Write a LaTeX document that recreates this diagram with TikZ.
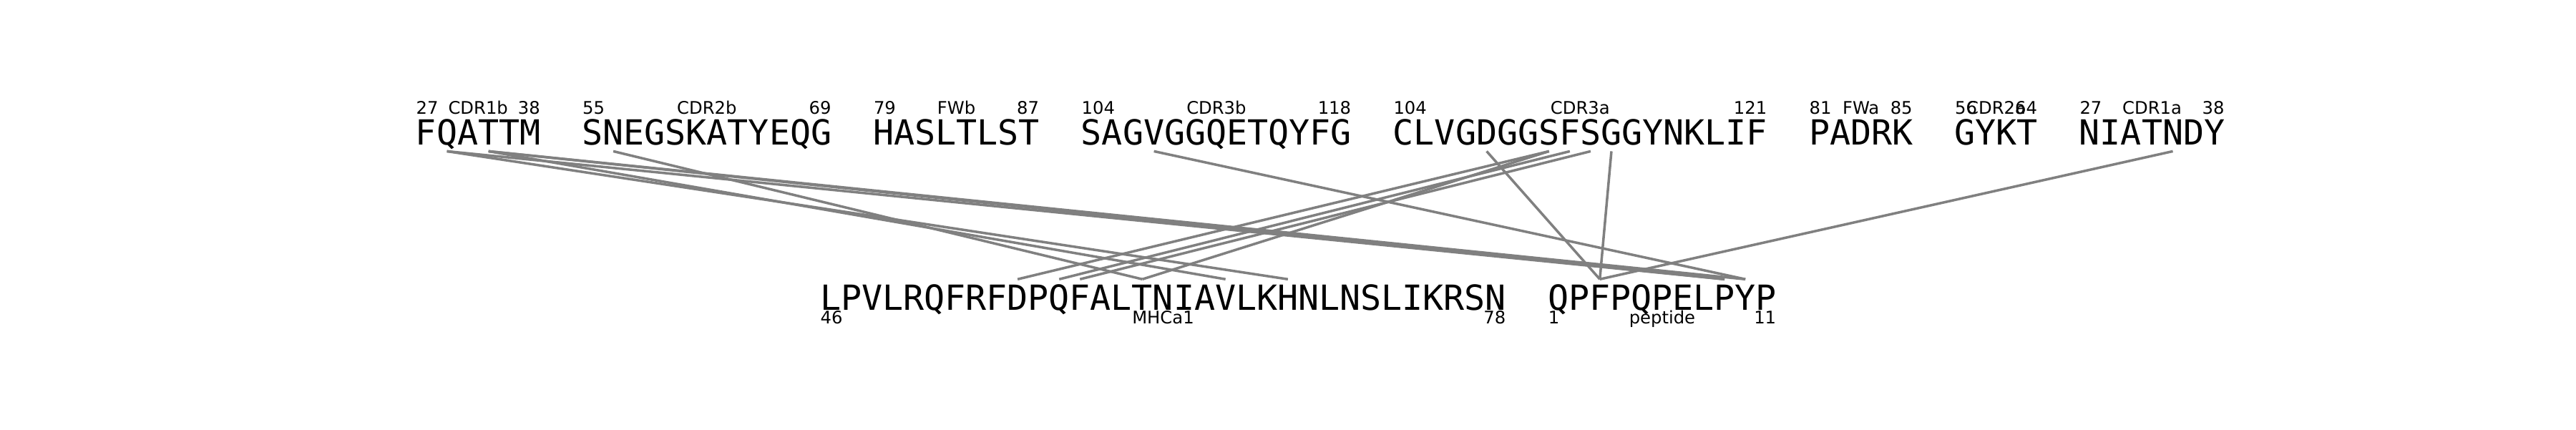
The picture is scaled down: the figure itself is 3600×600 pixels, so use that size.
\documentclass[tikz,border=0pt]{standalone}
\usepackage{fontspec}
\setmainfont{DejaVu Sans}
\newfontfamily\seqfont{DejaVu Sans Mono}

\begin{document}
\begin{tikzpicture}[x=0.01cm, y=-0.01cm,
    res/.style={anchor=base, inner sep=0pt, text height=0.42cm, text depth=0.087cm,
        font=\seqfont\fontsize{13.74}{14}\selectfont},
    resb/.style={res, text depth=0pt},
    lbl/.style={inner sep=0pt, font=\fontsize{6.9}{7}\selectfont},
    contact/.style={gray, line width=1pt}]
    \useasboundingbox (0,0) rectangle (3600,600);
    \foreach \c [count=\i from 0] in {F,Q,A,T,T,M}
        \node[res] (t\i) at ({581+29.06*(\i+0.5)},202) {\c};
    \foreach \c [count=\i from 8] in {S,N,E,G,S,K,A,T,Y,E,Q,G}
        \node[res] (t\i) at ({581+29.06*(\i+0.5)},202) {\c};
    \foreach \c [count=\i from 22] in {H,A,S,L,T,L,S,T}
        \node[res] (t\i) at ({581+29.06*(\i+0.5)},202) {\c};
    \foreach \c [count=\i from 32] in {S,A,G,V,G,G,Q,E,T,Q,Y,F,G}
        \node[res] (t\i) at ({581+29.06*(\i+0.5)},202) {\c};
    \foreach \c [count=\i from 47] in {C,L,V,G,D,G,G,S,F,S,G,G,Y,N,K,L,I,F}
        \node[res] (t\i) at ({581+29.06*(\i+0.5)},202) {\c};
    \foreach \c [count=\i from 67] in {P,A,D,R,K}
        \node[res] (t\i) at ({581+29.06*(\i+0.5)},202) {\c};
    \foreach \c [count=\i from 74] in {G,Y,K,T}
        \node[res] (t\i) at ({581+29.06*(\i+0.5)},202) {\c};
    \foreach \c [count=\i from 80] in {N,I,A,T,N,D,Y}
        \node[res] (t\i) at ({581+29.06*(\i+0.5)},202) {\c};
    \foreach \c [count=\i from 0] in {L,P,V,L,R,Q,F,R,F,D,P,Q,F,A,L,T,N,I,A,V,L,K,H,N,L,N,S,L,I,K,R,S,N}
        \node[resb] (b\i) at ({1146+29.06*(\i+0.5)},433) {\c};
    \foreach \c [count=\i from 35] in {Q,P,F,P,Q,P,E,L,P,Y,P}
        \node[resb] (b\i) at ({1146+29.06*(\i+0.5)},433) {\c};
    \foreach \l/\r/\s/\n/\e [count=\k] in {581/755.4/27/CDR1b/38, 813.5/1162.2/55/CDR2b/69,
        1220.3/1452.8/79/FWb/87, 1511.0/1888.8/104/CDR3b/118, 1946.8/2469.9/104/CDR3a/121,
        2528.0/2673.3/81/FWa/85, 2731.4/2847.7/56/CDR2a/64, 2905.8/3109.2/27/CDR1a/38}
    {
        \node[lbl, anchor=base west] (ls\k) at (\l,159) {\s};
        \node[lbl, anchor=base] (ln\k) at ({(\l+\r)/2},159) {\n};
        \node[lbl, anchor=base east] (le\k) at (\r,159) {\e};
    }
    \foreach \l/\r/\s/\n/\e [count=\k] in {1146/2105/46/MHCa1/78, 2163.1/2482.8/1/peptide/11}
    {
        \node[lbl, anchor=base west] (bs\k) at (\l,452) {\s};
        \node[lbl, anchor=base] (bn\k) at ({(\l+\r)/2},452) {\n};
        \node[lbl, anchor=base east] (be\k) at (\r,452) {\e};
    }
    \draw[contact] (t1.south) -- (b22.north);
    \draw[contact] (t1.south) -- (b43.north);
    \draw[contact] (t3.south) -- (b43.north);
    \draw[contact] (t3.south) -- (b44.north);
    \draw[contact] (t3.south) -- (b19.north);
    \draw[contact] (t9.south) -- (b15.north);
    \draw[contact] (t35.south) -- (b44.north);
    \draw[contact] (t51.south) -- (b37.north);
    \draw[contact] (t54.south) -- (b9.north);
    \draw[contact] (t54.south) -- (b15.north);
    \draw[contact] (t55.south) -- (b11.north);
    \draw[contact] (t56.south) -- (b12.north);
    \draw[contact] (t57.south) -- (b37.north);
    \draw[contact] (t84.south) -- (b37.north);
\end{tikzpicture}
\end{document}
